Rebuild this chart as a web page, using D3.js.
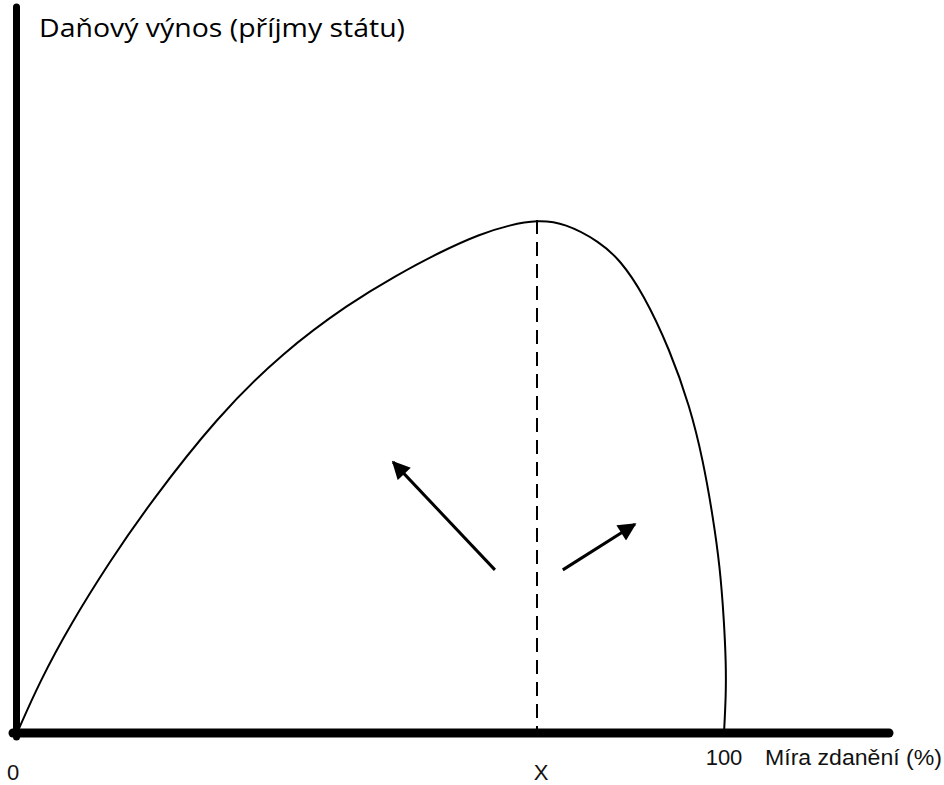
<!DOCTYPE html>
<html>
<head>
<meta charset="utf-8">
<script src="https://cdn.jsdelivr.net/npm/d3@7"></script>
<style>
  html, body { margin: 0; padding: 0; background: #fff; }
  svg { display: block; }
</style>
</head>
<body>
<svg id="viz" width="944" height="785"></svg>
<script>
// Laffer curve: tax rate (%) vs revenue (peak = 100)
var rate = [0, 3.25, 7.5, 13.15, 18.81, 28.29, 37.62, 47.1, 53.47, 59.83, 65.49, 69.73, 73.55,
            77.51, 82.46, 85.29, 88.54, 92.36, 95.19, 97.03, 98.44, 99.43, 100, 100.28, 100.28, 100];
var revenue = [0, 10.14, 21.05, 33.53, 44.83, 61.6, 74.27, 83.82, 89.08, 93.76, 97.27, 99.03, 100,
               99.42, 95.71, 92.2, 85.77, 74.66, 63.55, 53.22, 42.11, 32.36, 22.03, 13.65, 7.41, 0];
var peakRate = 73.55;

// arrows, [from rate, from revenue, to rate, to revenue]
var arrows = [
  [67.6, 31.8, 53.2, 52.8],
  [77.2, 31.8, 87.4, 40.7]
];

var yTitle = "Daňový výnos (příjmy státu)";
var xTitle = "Míra zdanění (%)";
var xLabels = [["0", 0], ["X", peakRate], ["100", 100]];

var svg = d3.select("svg");

var x = d3.scaleLinear().domain([0, 100]).range([17, 724]);
var y = d3.scaleLinear().domain([0, 100]).range([733, 220]);

var defs = svg.append("defs");
defs.append("marker")
    .attr("id", "head")
    .attr("viewBox", "0 0 10 10")
    .attr("refX", 9).attr("refY", 5)
    .attr("markerWidth", 6.5).attr("markerHeight", 6)
    .attr("markerUnits", "strokeWidth")
    .attr("orient", "auto")
  .append("path")
    .attr("d", "M0,0 L10,5 L0,10 Z")
    .attr("fill", "#000");

// dashed line at the peak
svg.append("line")
    .attr("x1", x(peakRate)).attr("x2", x(peakRate))
    .attr("y1", y(100)).attr("y2", y(0) + 4)
    .attr("stroke", "#000")
    .attr("stroke-width", 2)
    .attr("stroke-dasharray", "14,8");

// the curve
var pts = rate.map((r, i) => [r, revenue[i]]);
var line = d3.line()
    .x(d => x(d[0]))
    .y(d => y(d[1]))
    .curve(d3.curveBasis);

svg.append("path")
    .datum(pts)
    .attr("d", line)
    .attr("fill", "none")
    .attr("stroke", "#000")
    .attr("stroke-width", 2);

// arrows
svg.selectAll(".arrow")
    .data(arrows)
    .enter().append("line")
    .attr("class", "arrow")
    .attr("x1", d => x(d[0])).attr("y1", d => y(d[1]))
    .attr("x2", d => x(d[2])).attr("y2", d => y(d[3]))
    .attr("stroke", "#000")
    .attr("stroke-width", 3)
    .attr("marker-end", "url(#head)");

// axes
svg.append("line")
    .attr("x1", 16.5).attr("x2", 16.5)
    .attr("y1", 7).attr("y2", y(0) + 4)
    .attr("stroke", "#000")
    .attr("stroke-width", 7)
    .attr("stroke-linecap", "round");

svg.append("line")
    .attr("x1", 13).attr("x2", 889)
    .attr("y1", y(0)).attr("y2", y(0))
    .attr("stroke", "#000")
    .attr("stroke-width", 9)
    .attr("stroke-linecap", "round");

// texts
svg.append("text")
    .attr("x", 39).attr("y", 37)
    .attr("font-family", "'Open Sans', sans-serif")
    .attr("font-size", 26)
    .attr("textLength", 366)
    .attr("lengthAdjust", "spacingAndGlyphs")
    .text(yTitle);

svg.selectAll(".xl")
    .data(xLabels)
    .enter().append("text")
    .attr("class", "xl")
    .attr("x", d => d[1] == 100 ? x(d[1]) : x(d[1]) + (d[1] == 0 ? -4 : 4))
    .attr("y", d => d[1] == 100 ? 765 : 780)
    .attr("text-anchor", "middle")
    .attr("font-family", "'Liberation Sans', Arial, sans-serif")
    .attr("font-size", 22)
    .attr("fill", "#111")
    .text(d => d[0]);

svg.append("text")
    .attr("x", 765).attr("y", 765)
    .attr("font-family", "'Liberation Sans', Arial, sans-serif")
    .attr("font-size", 22)
    .attr("textLength", 177)
    .attr("lengthAdjust", "spacingAndGlyphs")
    .attr("fill", "#111")
    .text(xTitle);
</script>
</body>
</html>
